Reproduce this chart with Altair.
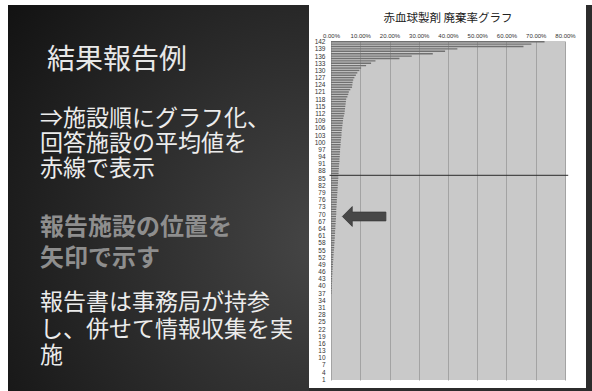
import altair as alt
import pandas as pd

# ---------------- data ----------------
ranks_desc = list(range(142, 0, -1))
rates_desc = (
    [0.730, 0.685, 0.658, 0.432, 0.390, 0.348, 0.276, 0.234, 0.152, 0.137, 0.120, 0.103]
    + [0.097, 0.090, 0.085, 0.080, 0.076, 0.074, 0.073, 0.072, 0.066, 0.061]
    + [0.059, 0.056, 0.052, 0.051, 0.050, 0.049, 0.048, 0.047, 0.046, 0.044]
    + [0.042, 0.041, 0.040, 0.039, 0.038, 0.037, 0.036, 0.036, 0.035, 0.034]
    + [0.033, 0.033, 0.032, 0.031, 0.031, 0.030, 0.030, 0.029, 0.029, 0.028]
    + [0.027, 0.027, 0.026, 0.026, 0.025, 0.025, 0.024, 0.024, 0.023, 0.023]
    + [0.022, 0.022, 0.021, 0.021, 0.020, 0.020, 0.019, 0.019, 0.018, 0.018]
    + [0.018, 0.017, 0.017, 0.016, 0.016, 0.015, 0.015, 0.014, 0.014, 0.013]
    + [0.013, 0.012, 0.012, 0.011, 0.011, 0.010, 0.009, 0.009, 0.008, 0.008]
    + [0.007, 0.007, 0.006, 0.006, 0.005, 0.005, 0.004, 0.004, 0.004, 0.003]
    + [0.003, 0.003, 0.002, 0.002, 0.0, 0.0, 0.0, 0.0, 0.0, 0.0]
    + [0.0] * 30
)
y_tick_ranks = list(range(142, 0, -3))
x_tick_rates = [0.0, 0.1, 0.2, 0.3, 0.4, 0.5, 0.6, 0.7, 0.8]

avg_rank = [86.2]
avg_from = [-0.005]
avg_to = [0.811]

arrow_rank = [69]
arrow_rate = [0.114]

chart_title = "赤血球製剤  廃棄率グラフ"
slide_title = "結果報告例"
lines_a = ["⇒施設順にグラフ化、", "回答施設の平均値を", "赤線で表示"]
lines_b = ["報告施設の位置を", "矢印で示す"]
lines_c = ["報告書は事務局が持参", "し、併せて情報収集を実", "施"]

bars_df = pd.DataFrame({"rank": ranks_desc, "rate": rates_desc})
avg_df = pd.DataFrame({"rank": avg_rank, "x0": avg_from, "x1": avg_to})
arrow_df = pd.DataFrame({"rank": arrow_rank, "rate": arrow_rate})
one = pd.DataFrame({"k": [0]})

JP = "Noto Sans CJK JP"
LAT = "Liberation Sans"

x_scale = alt.Scale(domain=[0, 0.8], nice=False, zero=False)
y_scale = alt.Scale(domain=[0.7, 142.3], nice=False, zero=False)

x_axis = alt.Axis(orient="top", values=x_tick_rates, format=".2%", title=None,
                  ticks=False, domain=False, grid=True, gridColor="#a3a3a3",
                  gridWidth=1, labelFontSize=6, labelFont=LAT, labelColor="#333333",
                  labelPadding=3, labelFlush=False)
y_axis = alt.Axis(orient="left", values=y_tick_ranks, title=None, ticks=False,
                  domain=False, grid=False, labelFontSize=6.5, labelFont=LAT,
                  labelColor="#333333", labelPadding=6, labelOverlap=False,
                  labelBound=False, labelFlush=False)

# ---------------- slide decoration ----------------
grad = alt.Gradient(
    gradient="radial",
    x1=0.95, y1=0.62, r1=0.0,
    x2=0.95, y2=0.62, r2=1.05,
    stops=[alt.GradientStop(offset=0, color="#474747"),
           alt.GradientStop(offset=1, color="#121212")],
)
slide = alt.Chart(one).mark_rect(fill=grad).encode(
    x=alt.value(-323), x2=alt.value(-22), y=alt.value(-36), y2=alt.value(350))
strip_r = alt.Chart(one).mark_rect(fill="#2c2c2c").encode(
    x=alt.value(255), x2=alt.value(261), y=alt.value(-36), y2=alt.value(350))
strip_b = alt.Chart(one).mark_rect(fill="#2c2c2c").encode(
    x=alt.value(-22), x2=alt.value(261), y=alt.value(347), y2=alt.value(350))


def text_line(txt, x, y, size, color, weight="normal"):
    return alt.Chart(one).mark_text(font=JP, fontSize=size, color=color, fontWeight=weight,
                                    align="left", baseline="alphabetic").encode(
        x=alt.value(x), y=alt.value(y), text=alt.value(txt))


texts = [text_line(slide_title, -284, 28, 28, "#e8e8e8")]
for i, s in enumerate(lines_a):
    texts.append(text_line(s, -291, 85 + 25 * i, 23, "#ececec"))
for i, s in enumerate(lines_b):
    texts.append(text_line(s, -291, 194 + 31 * i, 24, "#8e8e8e", "bold"))
for i, s in enumerate(lines_c):
    texts.append(text_line(s, -291, 269 + 26.5 * i, 23, "#ececec"))

title_mark = alt.Chart(one).mark_text(font=JP, fontSize=11.5, color="#222222",
                                      align="center", baseline="alphabetic").encode(
    x=alt.value(117), y=alt.value(-19), text=alt.value(chart_title))

# ---------------- chart ----------------
bars = alt.Chart(bars_df).mark_rule(color="#707070", strokeWidth=1.4).encode(
    x=alt.X("rate:Q", scale=x_scale, axis=x_axis),
    x2=alt.datum(0),
    y=alt.Y("rank:Q", scale=y_scale, axis=y_axis),
)
avg = alt.Chart(avg_df).mark_rule(color="#2b2b2b", strokeWidth=1).encode(
    x=alt.X("x0:Q", scale=x_scale, axis=x_axis),
    x2="x1:Q",
    y=alt.Y("rank:Q", scale=y_scale, axis=y_axis),
)
arrow_path = "M -1 0 L -0.55 -0.45 L -0.55 -0.2 L 0.98 -0.2 L 0.98 0.2 L -0.55 0.2 L -0.55 0.45 Z"
arrow = alt.Chart(arrow_df).mark_point(shape=arrow_path, size=1936, filled=True,
                                       fill="#474747", opacity=1,
                                       stroke="#3a3a3a", strokeWidth=0.8).encode(
    x=alt.X("rate:Q", scale=x_scale, axis=x_axis),
    y=alt.Y("rank:Q", scale=y_scale, axis=y_axis),
)

chart = alt.layer(slide, strip_r, strip_b, *texts, title_mark, bars, avg, arrow).properties(
    width=234,
    height=339,
    padding={"left": 331, "top": 41, "right": 27, "bottom": 11},
    autosize=alt.AutoSizeParams(type="none"),
    background="#ffffff",
).configure_view(fill="#c9c9c9", stroke=None)

chart.save("out.html", embed_options={"renderer": "svg", "actions": False})
